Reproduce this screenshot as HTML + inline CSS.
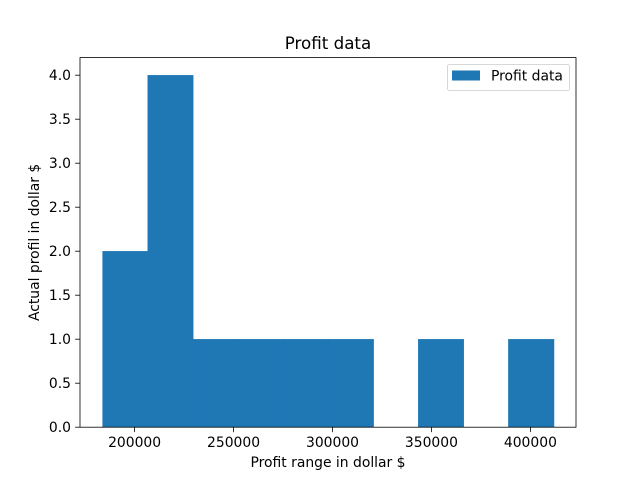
<!DOCTYPE html>
<html><head><meta charset="utf-8"><style>body{margin:0;background:#fff}svg{display:block;font-family:"DejaVu Sans","Liberation Sans",sans-serif}</style></head>
<body>
<svg id="chart" width="640" height="480"></svg>
<script>
const binStart = 183800;
const binWidth = 22785;
const counts = [2, 4, 1, 1, 1, 1, 0, 1, 0, 1];
const xTicks = [200000, 250000, 300000, 350000, 400000];
const yTicks = [0, 0.5, 1, 1.5, 2, 2.5, 3, 3.5, 4];
const L = 80, R = 576, T = 57.6, B = 427.2;
const xmin0 = binStart, xmax0 = binStart + binWidth * counts.length;
const pad = (xmax0 - xmin0) * 0.05;
const xmin = xmin0 - pad, xmax = xmax0 + pad;
const ymax = Math.max(...counts) * 1.05;
const sx = v => L + (v - xmin) / (xmax - xmin) * (R - L);
const sy = v => B - v / ymax * (B - T);
const svg = document.getElementById('chart');
const NS = 'http://www.w3.org/2000/svg';
function mk(tag, attrs, parent) {
  const e = document.createElementNS(NS, tag);
  for (const k in attrs) e.setAttribute(k, attrs[k]);
  (parent || svg).appendChild(e);
  return e;
}
counts.forEach((c, i) => {
  if (c <= 0) return;
  const x0 = sx(binStart + i * binWidth), x1 = sx(binStart + (i + 1) * binWidth);
  const r = mk('rect', {x: x0, y: sy(c), width: x1 - x0 + 0.6, height: B - sy(c), fill: '#1f77b4', stroke: '#1f77b4', 'stroke-width': 0.3});
  
  
});
const frame = mk('rect', {x: L, y: T, width: R - L, height: B - T, fill: 'none', stroke: '#000', 'stroke-width': 0.8});


xTicks.forEach(v => {
  const x = sx(v);
  mk('line', {x1: x, x2: x, y1: B, y2: B + 4.9, stroke: '#000', 'stroke-width': 0.8});
  const t = mk('text', {x: x, y: B + 20, 'font-size': 13.9, 'text-anchor': 'middle'});
  t.textContent = v;
  
  
});
yTicks.forEach(v => {
  const y = sy(v);
  mk('line', {x1: L, x2: L - 4.9, y1: y, y2: y, stroke: '#000', 'stroke-width': 0.8});
  const t = mk('text', {x: L - 9, y: y + 5, 'font-size': 13.9, 'text-anchor': 'end'});
  t.textContent = v.toFixed(1);
  
  
});
const title = mk('text', {x: (L + R) / 2, y: 49, 'font-size': 16.7, 'text-anchor': 'middle'});
title.textContent = 'Profit data';


const xl = mk('text', {x: (L + R) / 2, y: 467, 'font-size': 13.9, 'text-anchor': 'middle'});
xl.textContent = 'Profit range in dollar $';


const yl = mk('text', {x: 0, y: 0, 'font-size': 13.9, 'text-anchor': 'middle', transform: 'translate(39,' + ((T + B) / 2) + ') rotate(-90)'});
yl.textContent = 'Actual profil in dollar $';


const lg = mk('g', {});


mk('rect', {x: 447.5, y: 64.5, width: 122, height: 26, rx: 2, fill: '#fff', stroke: '#ccc', 'stroke-width': 0.8}, lg);
mk('rect', {x: 452, y: 70.5, width: 28, height: 10, fill: '#1f77b4'}, lg);
const lt = mk('text', {x: 491, y: 80.5, 'font-size': 13.9}, lg);
lt.textContent = 'Profit data';


</script>
</body></html>
